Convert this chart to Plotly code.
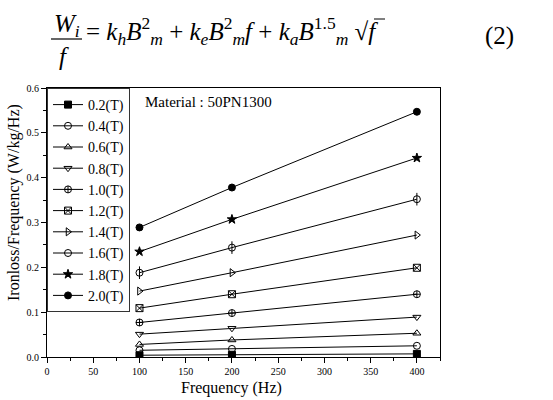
import plotly.graph_objects as go

# ---- data ----
freq = [100, 200, 400]
labels = ["0.2(T)", "0.4(T)", "0.6(T)", "0.8(T)", "1.0(T)",
          "1.2(T)", "1.4(T)", "1.6(T)", "1.8(T)", "2.0(T)"]
v02 = [0.004, 0.005, 0.007]
v04 = [0.015, 0.018, 0.025]
v06 = [0.028, 0.038, 0.053]
v08 = [0.051, 0.064, 0.089]
v10 = [0.077, 0.098, 0.140]
v12 = [0.109, 0.140, 0.199]
v14 = [0.147, 0.188, 0.272]
v16 = [0.188, 0.244, 0.352]
v18 = [0.235, 0.307, 0.444]
v20 = [0.289, 0.378, 0.547]
series = [v02, v04, v06, v08, v10, v12, v14, v16, v18, v20]
symbols = ["square", "circle-open", "triangle-up-open", "triangle-down-open",
           "circle-cross-open", "square-x-open", "triangle-right-open",
           "circle-open", "star", "circle"]
x_ticks = [0, 50, 100, 150, 200, 250, 300, 350, 400]
y_ticks = [0.0, 0.1, 0.2, 0.3, 0.4, 0.5, 0.6]

W, H = 553, 400
L, R, T, B = 47, 113, 88, 43
pw, ph = W - L - R, H - T - B

def px(x):
    return (x - L) / pw

def py(y):
    return (H - B - y) / ph

SERIF = '"Liberation Serif", "Times New Roman", serif'
fig = go.Figure()
for lab, vals, sym in zip(labels, series, symbols):
    fig.add_trace(go.Scatter(
        x=freq, y=vals, name=lab, mode="lines+markers",
        line=dict(color="black", width=1),
        marker=dict(symbol=sym, size=7, color="black",
                    line=dict(color="black", width=1)),
    ))
# vertical bar for the 1.6T phi-like symbol
fig.add_trace(go.Scatter(
    x=freq, y=v16, mode="markers", showlegend=False,
    marker=dict(symbol="line-ns-open", size=9, color="black",
                line=dict(color="black", width=1)),
))

fig.update_layout(
    width=W, height=H,
    margin=dict(l=L, r=R, t=T, b=B),
    paper_bgcolor="white", plot_bgcolor="white",
    font=dict(family=SERIF, color="black"),
    showlegend=True,
    legend=dict(x=0, y=1, xanchor="left", yanchor="top",
                bgcolor="white", bordercolor="#333", borderwidth=1,
                font=dict(size=14, family=SERIF), itemwidth=30,
                tracegroupgap=0),
    xaxis=dict(range=[0, 425], tickvals=x_ticks, ticks="outside", ticklen=5,
               tickwidth=1, tickcolor="black", showline=True, linecolor="black",
               linewidth=1, mirror=True, showgrid=False, zeroline=False,
               tickfont=dict(size=10, family=SERIF),
               minor=dict(dtick=25, tick0=0, ticks="outside", ticklen=3,
                          tickcolor="black", showgrid=False)),
    yaxis=dict(range=[0, 0.6], tickvals=y_ticks, tickformat=".1f",
               ticks="outside", ticklen=5, tickwidth=1, tickcolor="black",
               showline=True, linecolor="black", linewidth=1, mirror=True,
               showgrid=False, zeroline=False,
               tickfont=dict(size=10, family=SERIF),
               minor=dict(dtick=0.05, tick0=0, ticks="outside", ticklen=3,
                          tickcolor="black", showgrid=False)),
)

def note(text, x, y, size, xanchor="center", angle=0):
    return dict(text=text, x=px(x), y=py(y), xref="paper", yref="paper",
                xanchor=xanchor, yanchor="middle", showarrow=False,
                textangle=angle, font=dict(size=size, family=SERIF))

ann = []
ann.append(note("Frequency (Hz)", 231, 388, 16))
ann.append(note("Ironloss/Frequency (W/kg/Hz)", 14, 203, 16, angle=-90))
ann.append(note("Material : 50PN1300", 143, 102, 15, xanchor="left"))
# equation
EQ = 25
ann.append(note("<i>W</i><sub><i>i</i></sub>", 67, 25, EQ))
ann.append(note("<i>f</i>", 64, 57, EQ))
rhs = ("= <i>k</i><sub><i>h</i></sub><i>B</i><sup>2</sup><sub><i>m</i></sub>"
       " + <i>k</i><sub><i>e</i></sub><i>B</i><sup>2</sup><sub><i>m</i></sub><i>f</i>"
       " + <i>k</i><sub><i>a</i></sub><i>B</i><sup>1.5</sup><sub><i>m</i></sub> √<i>f</i>")
ann.append(note(rhs, 84, 31, EQ, xanchor="left"))
ann.append(note("(2)", 499, 36, EQ))
fig.update_layout(annotations=ann)
fig.add_shape(type="line", xref="paper", yref="paper",
              x0=px(51), x1=px(82), y0=py(39), y1=py(39),
              line=dict(color="black", width=1.2))
# radical overline
fig.add_shape(type="line", xref="paper", yref="paper",
              x0=px(374), x1=px(385), y0=py(19), y1=py(19),
              line=dict(color="black", width=1))

fig.write_html("out.html", config={"displayModeBar": False},
               post_script="document.body.style.margin='0';"
                           "document.body.style.overflow='hidden';")
